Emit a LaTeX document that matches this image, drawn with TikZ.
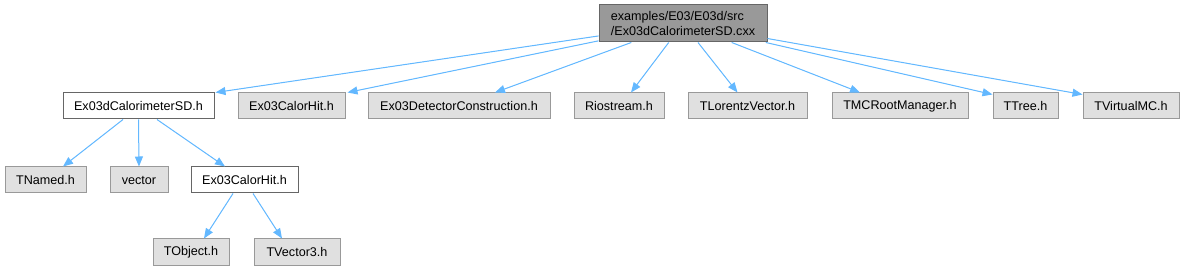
\documentclass[tikz,border=0pt]{standalone}
\usepackage{fontspec}
\setmainfont{Liberation Sans}
\usetikzlibrary{arrows.meta}

\definecolor{edgeblue}{HTML}{63B8FF}
\definecolor{rootfill}{HTML}{999999}
\definecolor{rootline}{HTML}{666666}
\definecolor{extfill}{HTML}{E0E0E0}
\definecolor{extline}{HTML}{999999}

\begin{document}
\begin{tikzpicture}[
  x=1pt, y=-1pt,
  file/.style={draw, line width=1pt, minimum height=26pt, inner xsep=0pt,
    font=\fontsize{12.6}{15}\selectfont},
  root/.style={file, fill=rootfill, draw=rootline, minimum height=37pt, align=left},
  local/.style={file, fill=white, draw=rootline},
  ext/.style={file, fill=extfill, draw=extline},
  arrow/.style={-{Triangle[length=10pt, width=8pt]}, draw=edgeblue, fill=edgeblue, line width=1pt}
]
\useasboundingbox (0,0) rectangle (1185,272);

\node[root, minimum width=168pt] (top) at (683,23.5) {examples/E03/E03d/src\\/Ex03dCalorimeterSD.cxx};

\node[local, minimum width=151pt] (calsd) at (138.5,106) {Ex03dCalorimeterSD.h};
\node[ext, minimum width=107pt] (calhit) at (291.5,106) {Ex03CalorHit.h};
\node[ext, minimum width=182pt] (detcon) at (459,106) {Ex03DetectorConstruction.h};
\node[ext, minimum width=90pt] (riostream) at (619,106) {Riostream.h};
\node[ext, minimum width=119pt] (lorentz) at (747.5,106) {TLorentzVector.h};
\node[ext, minimum width=136pt] (mcroot) at (900,106) {TMCRootManager.h};
\node[ext, minimum width=65pt] (ttree) at (1025.5,106) {TTree.h};
\node[ext, minimum width=96pt] (vmc) at (1131,106) {TVirtualMC.h};

\node[ext, minimum width=81pt] (tnamed) at (45.5,180) {TNamed.h};
\node[ext, minimum width=58pt] (vector) at (139,180) {vector};
\node[local, minimum width=107pt] (hitsub) at (244.5,180) {Ex03CalorHit.h};

\node[ext, minimum width=76pt] (tobject) at (191,252) {TObject.h};
\node[ext, minimum width=86pt] (tvector) at (297,252) {TVector3.h};

% includes of the source file
\draw[arrow] (top) -- ([xshift=1pt]calsd.north east);
\draw[arrow] (top) -- ([xshift=2pt]calhit.north east);
\draw[arrow] (top) -- ([xshift=36pt]detcon.north);
\draw[arrow] (top) -- ([xshift=12pt]riostream.north);
\draw[arrow] (top) -- ([xshift=-10pt]lorentz.north);
\draw[arrow] (top) -- ([xshift=-40pt]mcroot.north);
\draw[arrow] (top) -- ([yshift=-2pt]ttree.north west);
\draw[arrow] (top) -- ([yshift=-2pt]vmc.north west);

% header dependencies
\draw[arrow] ([xshift=-15.5pt]calsd.south) -- ([xshift=17.5pt]tnamed.north);
\draw[arrow] (calsd.south) -- (vector.north);
\draw[arrow] ([xshift=18.5pt]calsd.south) -- ([xshift=-19.5pt]hitsub.north);
\draw[arrow] ([xshift=-11.5pt]hitsub.south) -- ([xshift=13pt]tobject.north);
\draw[arrow] ([xshift=8.5pt]hitsub.south) -- ([xshift=-15pt]tvector.north);
\end{tikzpicture}
\end{document}
